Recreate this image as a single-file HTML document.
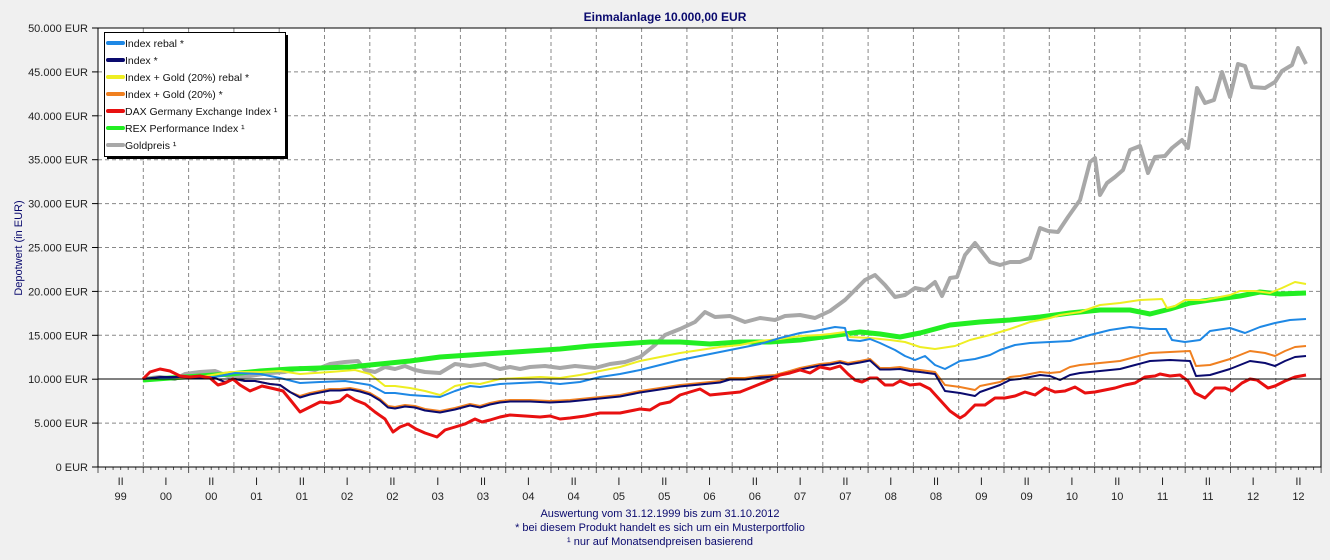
<!DOCTYPE html>
<html><head><meta charset="utf-8"><style>
body{margin:0;background:#f0f0f0;width:1330px;height:555px;overflow:hidden;font-family:"Liberation Sans",Arial,sans-serif}
</style></head><body>
<svg id="s" width="1330" height="555" xmlns="http://www.w3.org/2000/svg" font-family="Liberation Sans, Arial, sans-serif"></svg>
<script>
const s=document.getElementById('s');let h='';
const X0=98,X1=1321,Y0=28,Y1=467;
h+=`<rect x="${X0}" y="${Y0}" width="${X1-X0}" height="${Y1-Y0}" fill="#fff"/>`;
h+=`<text x="665" y="21" text-anchor="middle" font-size="12" font-weight="bold" fill="#0a0a6e">Einmalanlage 10.000,00 EUR</text>`;
for(let i=0;i<=10;i++){const y=Y1-i*43.9;const v=i*5000;
 const lab=v==0?'0 EUR':(v/1000).toFixed(0)+'.000 EUR';
 h+=`<text x="88" y="${y+4}" text-anchor="end" font-size="11" fill="#222">${lab}</text>`;
 h+=`<line x1="92" x2="${X0}" y1="${y}" y2="${y}" stroke="#000"/>`;
 if(i>0&&i<10&&i!=2)h+=`<line x1="${X0}" x2="${X1}" y1="${y}" y2="${y}" stroke="#888" stroke-dasharray="4,3"/>`;}
const step=45.3;
for(let k=1;k<27;k++){const x=X0+k*step;h+=`<line x1="${x}" x2="${x}" y1="${Y0}" y2="${Y1}" stroke="#888" stroke-dasharray="4,3"/>`;}
for(let m=0;m<=162;m++){const x=X0+m*step/6;h+=`<line x1="${x}" x2="${x}" y1="${Y1}" y2="${Y1+(m%6==0?6:3)}" stroke="#555"/>`;}
for(let k=0;k<27;k++){const x=X0+step/2+k*step;const half=(k%2==0)?'II':'I';
 const yy=k==0?'99':String(Math.floor((k-1)/2)).padStart(2,'0');
 h+=`<text x="${x}" y="485" text-anchor="middle" font-size="11" fill="#222">${half}</text><text x="${x}" y="500" text-anchor="middle" font-size="11" fill="#222">${yy}</text>`;}
h+=`<text transform="translate(22,248) rotate(-90)" text-anchor="middle" font-size="11" fill="#0a0a6e">Depotwert (in EUR)</text>`;
h+=`<text x="660" y="517" text-anchor="middle" font-size="11" fill="#0a0a6e">Auswertung vom 31.12.1999 bis zum 31.10.2012</text>`;
h+=`<text x="660" y="531" text-anchor="middle" font-size="11" fill="#0a0a6e">* bei diesem Produkt handelt es sich um ein Musterportfolio</text>`;
h+=`<text x="660" y="545" text-anchor="middle" font-size="11" fill="#0a0a6e">¹ nur auf Monatsendpreisen basierend</text>`;
function P(a){let r=[];for(let i=0;i<a.length;i+=2)r.push(a[i]+','+a[i+1]);return r.join(' ');}
function L(a,c,w){h+=`<polyline points="${P(a)}" fill="none" stroke="${c}" stroke-width="${w}" stroke-linejoin="round"/>`;}
const gray=[143,379,160,377,175,379,185,374,200,372,215,371,230,377,250,376,270,373,285,372,300,368,315,370,330,364,345,362,358,361,365,370,375,372,385,367,395,369,405,366,415,370,425,372,440,373,455,364,470,366,485,364,500,369,510,367,520,369,530,367,545,366,560,368,575,366,595,368,610,364,625,362,640,357,655,345,665,335,680,329,695,322,705,312,715,317,730,316,745,322,760,318,775,320,785,316,800,315,815,318,830,311,845,300,855,290,865,280,875,275,885,285,895,297,905,295,915,288,925,290,935,282,942,296,950,278,957,277,965,255,975,243,990,262,1000,265,1010,262,1020,262,1030,258,1040,228,1048,231,1058,232,1068,217,1080,200,1090,162,1095,158,1100,195,1107,183,1115,177,1123,170,1130,150,1140,146,1148,173,1155,157,1165,156,1172,148,1182,140,1188,148,1197,88,1205,103,1214,100,1222,72,1230,97,1238,64,1245,66,1252,87,1265,88,1275,82,1282,71,1292,65,1298,48,1306,64];
const green=[143,380,170,378,200,376,230,374,260,371,290,369,320,368,350,367,380,364,410,361,440,357,470,355,500,353,530,351,560,349,590,346,620,344,650,342,680,342,710,344,740,342,770,342,800,340,830,336,860,332,880,334,900,337,920,333,950,325,980,322,1010,320,1040,317,1070,313,1100,310,1130,310,1150,314,1170,309,1190,303,1210,300,1240,296,1260,292,1280,294,1306,293];
const yellow=[143,379,200,377,230,372,260,372,280,371,300,374,330,372,355,370,370,374,385,386,395,386,410,388,425,391,440,395,455,386,470,383,480,384,500,379,520,378,540,377,560,378,580,375,600,371,620,367,640,361,660,357,680,353,700,350,720,347,740,345,760,341,780,339,800,336,820,335,830,334,845,332,850,337,870,338,890,340,905,342,920,347,935,349,955,346,970,340,990,335,1010,329,1030,322,1050,318,1060,315,1080,312,1100,305,1120,303,1140,300,1162,299,1167,308,1175,306,1185,300,1205,300,1230,295,1240,291,1255,291,1270,293,1282,288,1295,282,1306,284];
const blue=[143,379,180,377,215,377,235,373,260,374,280,378,300,383,320,382,345,381,370,385,385,393,395,393,410,395,425,396,440,397,455,391,470,386,480,387,500,384,520,383,540,382,560,384,580,382,600,377,620,374,640,370,660,365,680,360,700,356,720,352,740,348,760,344,780,338,800,333,820,330,835,327,845,328,848,340,860,341,870,339,880,343,895,350,905,356,915,360,925,356,935,365,945,369,960,361,975,359,990,355,1000,350,1015,345,1030,343,1050,342,1070,341,1090,335,1110,330,1130,327,1150,329,1166,329,1172,340,1185,342,1200,340,1210,331,1230,328,1245,333,1260,327,1275,323,1290,320,1306,319];
const orange=[143,379,160,377,180,377,200,378,215,378,225,382,235,379,245,381,255,381,270,384,280,385,290,392,300,396,310,393,320,391,330,389,340,389,350,388,360,390,370,393,380,399,388,406,395,407,405,405,415,406,425,409,440,411,455,408,470,404,480,406,490,403,500,401,510,400,530,400,550,401,570,400,600,397,620,395,640,391,660,388,680,385,700,383,720,381,730,378,745,378,760,376,775,375,790,371,800,368,810,366,820,364,830,363,840,361,848,363,860,361,870,359,880,368,890,368,900,367,910,369,920,370,935,372,945,385,960,387,975,390,980,386,1000,382,1010,377,1020,376,1030,374,1040,372,1050,373,1060,372,1070,367,1080,365,1100,363,1120,361,1135,357,1150,353,1170,352,1190,351,1196,366,1210,365,1230,359,1240,355,1250,351,1265,353,1275,356,1285,351,1295,347,1306,346];
const navy=orange.map((v,i)=>{if(i%2==0)return v;const x=orange[i-1];let d=x<300?0:x<900?1.5:x<940?2:x<995?6:x<1055?3:x<1190?8:10;return v+d;});
const red=[143,379,150,372,160,369,170,371,180,376,190,377,200,376,210,378,218,385,225,383,233,379,240,385,250,391,262,386,275,389,283,391,292,402,300,412,310,407,320,402,330,403,340,401,347,395,355,400,365,404,375,412,385,419,393,432,400,427,408,424,416,429,425,433,437,437,445,430,455,427,465,424,475,419,482,422,490,420,500,417,510,415,525,416,540,417,550,416,560,419,570,418,585,416,600,413,620,413,630,411,640,409,650,410,660,404,670,402,680,395,690,392,700,389,710,395,720,394,730,393,740,392,750,388,760,384,770,380,780,375,790,373,800,370,810,373,820,367,830,369,840,366,848,374,855,380,862,382,870,378,877,378,885,385,893,385,900,381,910,385,920,384,930,389,940,400,950,411,960,418,965,415,975,405,985,405,995,398,1005,398,1015,396,1025,392,1035,395,1045,388,1055,392,1065,391,1075,387,1085,393,1095,392,1105,390,1115,388,1125,385,1135,383,1145,377,1155,376,1160,374,1170,376,1180,375,1188,381,1195,393,1205,398,1215,388,1225,388,1232,391,1242,383,1250,379,1257,380,1268,388,1275,386,1285,381,1295,377,1306,375];
L(gray,'#a8a8a8',4);L(green,'#22ee22',5);L(yellow,'#eeee22',2);L(blue,'#1e88e5',2);L(orange,'#f08020',2);L(navy,'#0a0a6e',2);L(red,'#e81010',3);
h+=`<line x1="${X0}" x2="${X1}" y1="379" y2="379" stroke="#000"/>`;
h+=`<rect x="${X0}" y="${Y0}" width="${X1-X0}" height="${Y1-Y0}" fill="none" stroke="#000"/>`;
h+=`<rect x="107" y="35" width="181" height="124" fill="#000"/><rect x="104.5" y="32.5" width="181" height="124" fill="#fff" stroke="#000"/>`;
const lg=[['Index rebal *','#1e88e5'],['Index *','#0a0a6e'],['Index + Gold (20%) rebal *','#eeee22'],['Index + Gold (20%) *','#f08020'],['DAX Germany Exchange Index ¹','#e81010'],['REX Performance Index ¹','#22ee22'],['Goldpreis ¹','#a8a8a8']];
lg.forEach((e,i)=>{const y=43+i*17;h+=`<line x1="108" x2="123" y1="${y}" y2="${y}" stroke="${e[1]}" stroke-width="4" stroke-linecap="round"/><text x="125" y="${y+4}" font-size="10.5" fill="#111">${e[0]}</text>`;});
s.innerHTML=h;
</script>
</body></html>
